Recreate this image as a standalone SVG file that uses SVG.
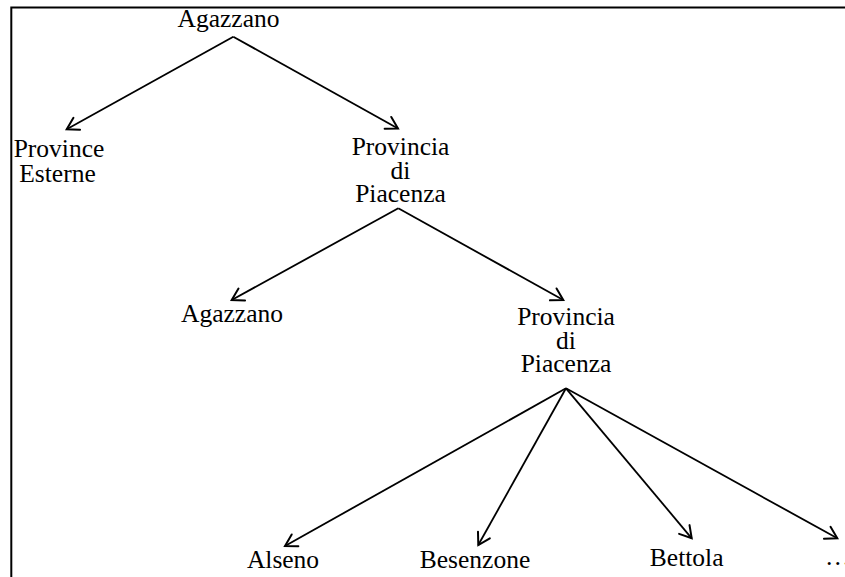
<svg xmlns="http://www.w3.org/2000/svg" width="845" height="577" viewBox="0 0 845 577">
<defs>
<marker id="arr" markerUnits="userSpaceOnUse" viewBox="-14 -9 16 18" markerWidth="16" markerHeight="18" refX="0" refY="0" orient="auto">
<path d="M-11.5,-6.8 L0,0 L-11.5,6.8" fill="none" stroke="#000" stroke-width="2" stroke-linecap="round" stroke-linejoin="miter"/>
</marker>
<style>
text{font-family:"Liberation Serif","Times New Roman",serif;font-size:25.5px;fill:#000;text-anchor:middle}
.c{stroke:#000;stroke-width:1.8;fill:none;marker-end:url(#arr)}
.frame{stroke:#000;stroke-width:2;fill:none}
</style>
</defs>
<rect width="845" height="577" fill="#fff"/>
<path class="frame" d="M11.3,577 L11.3,7.5 L845,7.5"/>
<g id="connectors">
<line class="c" x1="233.3" y1="36.7" x2="66.7" y2="129.3"/>
<line class="c" x1="233.3" y1="36.7" x2="398" y2="128.5"/>
<line class="c" x1="398.3" y1="208.3" x2="231.7" y2="300"/>
<line class="c" x1="398.3" y1="208.3" x2="563.3" y2="300"/>
<line class="c" x1="566" y1="388.3" x2="285" y2="546"/>
<line class="c" x1="566" y1="388.3" x2="478.3" y2="545"/>
<line class="c" x1="566" y1="388.3" x2="691.7" y2="538.3"/>
<line class="c" x1="566" y1="388.3" x2="837.3" y2="538.3"/>
</g>
<g id="n-root"><text x="228.5" y="26.7">Agazzano</text></g>
<g id="n-esterne"><text x="59" y="157">Province</text><text x="57.5" y="182">Esterne</text></g>
<g id="n-piacenza1"><text x="400.5" y="155">Provincia</text><text x="400.5" y="179">di</text><text x="400.5" y="202">Piacenza</text></g>
<g id="n-agazzano2"><text x="232" y="321.7">Agazzano</text></g>
<g id="n-piacenza2"><text x="566" y="325">Provincia</text><text x="566" y="349">di</text><text x="566" y="371.7">Piacenza</text></g>
<g id="n-alseno"><text x="283" y="568.3">Alseno</text></g>
<g id="n-besenzone"><text x="475" y="568">Besenzone</text></g>
<g id="n-bettola"><text x="686.7" y="566">Bettola</text></g>
<g id="n-more"><text x="825" y="565" style="text-anchor:start">…</text></g>
</svg>
